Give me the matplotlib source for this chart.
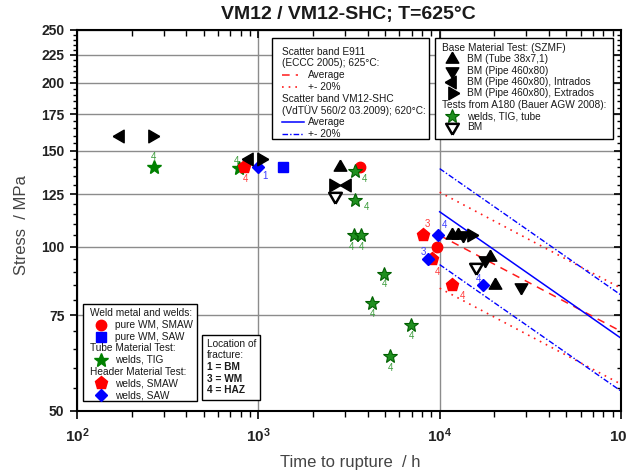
import matplotlib
matplotlib.use("Agg")
import matplotlib.pyplot as plt
from matplotlib.lines import Line2D
from matplotlib.patches import Rectangle
from matplotlib.ticker import FixedLocator, NullFormatter, FixedFormatter

plt.rcParams["font.family"] = ["Liberation Sans", "DejaVu Sans"]
plt.rcParams["mathtext.fontset"] = "custom"
plt.rcParams["mathtext.rm"] = "Liberation Sans"
plt.rcParams["mathtext.bf"] = "Liberation Sans:bold"

# ---------------- data ----------------
# Base material tests (SZMF)
bm_tube_x = [2820, 11750, 12700, 19000, 20200]
bm_tube_y = [140, 105, 105, 96, 85]
bm_pipe_x = [13500, 17800, 28100]
bm_pipe_y = [105, 94.5, 84.5]
bm_intrados_x = [172, 890, 3090]
bm_intrados_y = [160, 145, 130]
bm_extrados_x = [258, 1035, 2580, 14850]
bm_extrados_y = [160, 145, 130, 105]

# Tests from A180 (Bauer AGW 2008)
a180_tig_x = [3415, 3415, 3373, 3687, 4936, 4240, 6955, 5326]
a180_tig_y = [138, 122, 105, 105, 89, 79, 72, 63]
a180_bm_x = [2650, 15880]
a180_bm_y = [124, 92]

# Weld metal and welds
wm_smaw_x = [3640, 9680]
wm_smaw_y = [140, 100]
wm_saw_x = [1368]
wm_saw_y = [140]
tube_tig_x = [265, 783]
tube_tig_y = [140, 139.5]
hdr_smaw_x = [834, 8100, 9080, 11700]
hdr_smaw_y = [140, 105, 95, 85]
hdr_saw_x = [996, 9800, 8630, 17350]
hdr_saw_y = [140, 105, 95, 85]

# Scatter bands (average lines, +-20 %)
band_x = [1e4, 1e5]
e911_avg = [105, 70]
vm12_avg = [116, 68]
band_pct = 0.20

# Location of fracture labels: (text, x, y, colour key)
fracture_labels = [
    ("4", 265, 140, "g"), ("4", 783, 139.5, "g"), ("4", 834, 140, "r"),
    ("1", 996, 140, "b"), ("4", 3415, 138, "g"), ("4", 3415, 122, "g"),
    ("4", 3373, 105, "g"), ("4", 3687, 105, "g"), ("3", 8100, 105, "r"),
    ("4", 9800, 105, "b"), ("3", 8630, 95, "b"), ("4", 9080, 95, "r"),
    ("4", 4936, 89, "g"), ("4", 4240, 79, "g"), ("4", 6955, 72, "g"),
    ("4", 5326, 63, "g"), ("4", 11700, 85, "r"), ("4", 17350, 85, "b"),
]
# label offsets in pixels (dx right, dy up)
label_offsets = [
    (0, 10), (-3, 7), (1, -12), (7, -9), (9, -8), (11, -7),
    (-3, -12), (0, -12), (4, 11), (6, 10), (-5, 7), (5, -13),
    (0, -10), (0, -11), (0, -11), (0, -12), (10, -11), (-5, 6),
]

yticks = [50, 75, 100, 125, 150, 175, 200, 225, 250]
xticks = [1e2, 1e3, 1e4, 1e5]
xticklabels = [r"$\mathbf{10^{2}}$", r"$\mathbf{10^{3}}$",
               r"$\mathbf{10^{4}}$", r"$\mathbf{10^{5}}$"]

# ---------------- figure ----------------
W, H = 627, 470
fig = plt.figure(figsize=(W / 100, H / 100), dpi=100)


def fx(px):
    return px / W


def fy(py):
    return 1 - py / H


ax = fig.add_axes([fx(77), fy(411), (621 - 77) / W, (411 - 30) / H])
ax.set_xscale("log")
ax.set_yscale("log")
ax.set_xlim(1e2, 1e5)
ax.set_ylim(50, 250)

ax.yaxis.set_major_locator(FixedLocator(yticks))
ax.yaxis.set_major_formatter(FixedFormatter([str(v) for v in yticks]))
ax.yaxis.set_minor_locator(FixedLocator([v for v in range(50, 251, 5) if v % 25]))
ax.yaxis.set_minor_formatter(NullFormatter())
ax.xaxis.set_major_locator(FixedLocator(xticks))
ax.xaxis.set_major_formatter(FixedFormatter(xticklabels))
ax.xaxis.set_minor_locator(FixedLocator([m * 10 ** e for e in (2, 3, 4) for m in range(2, 10)]))
ax.xaxis.set_minor_formatter(NullFormatter())

ax.grid(True, which="major", color="#8c8c8c", lw=1.0, zorder=0)
ax.set_axisbelow(True)
for s in ax.spines.values():
    s.set_linewidth(1.5)
    s.set_color("black")

ax.tick_params(axis="y", which="major", direction="out", length=5, width=1.2,
               labelsize=10, pad=4, right=True)
ax.tick_params(axis="y", which="minor", direction="out", length=3, width=1.0, right=True)
ax.tick_params(axis="x", which="major", direction="out", length=6, width=1.2,
               labelsize=11, pad=5, top=True)
ax.tick_params(axis="x", which="minor", direction="out", length=4, width=1.0, top=True)
ax.tick_params(which="both", right=True, top=True)
for lab in ax.get_yticklabels():
    lab.set_fontweight("bold")
    lab.set_color("#222222")
for lab in ax.get_xticklabels():
    lab.set_color("#222222")
# right/top ticks point inward
for t in ax.yaxis.get_major_ticks() + ax.yaxis.get_minor_ticks():
    t.tick2line.set_marker(matplotlib.lines.TICKLEFT)
for t in ax.xaxis.get_major_ticks() + ax.xaxis.get_minor_ticks():
    t.tick2line.set_marker(matplotlib.lines.TICKDOWN)

# scatter bands
RED = "#ff1a1a"
BLUE = "#0000ff"
GREEN = "#008000"
ax.plot(band_x, e911_avg, color=RED, lw=1.1, dashes=(5, 4), zorder=2)
for f in (1 + band_pct, 1 - band_pct):
    ax.plot(band_x, [v * f for v in e911_avg], color=RED, lw=1.2, dashes=(1, 3), zorder=2)
ax.plot(band_x, vm12_avg, color=BLUE, lw=1.1, zorder=2)
for f in (1 + band_pct, 1 - band_pct):
    ax.plot(band_x, [v * f for v in vm12_avg], color=BLUE, lw=1.0,
            dashes=(4, 1.5, 1, 1.5), zorder=2)

# equilateral triangle markers
TRI_UP = [(0, 0.577), (-0.5, -0.289), (0.5, -0.289), (0, 0.577)]
TRI_DOWN = [(x, -y) for x, y in TRI_UP]
TRI_LEFT = [(-y, x) for x, y in TRI_UP]
TRI_RIGHT = [(y, x) for x, y in TRI_UP]
TRI_MS = 10.5

ST = {
    "tube": dict(marker=TRI_UP, ms=TRI_MS, color="black", ls="none"),
    "pipe": dict(marker=TRI_DOWN, ms=TRI_MS, color="black", ls="none"),
    "intr": dict(marker=TRI_LEFT, ms=TRI_MS, color="black", ls="none"),
    "extr": dict(marker=TRI_RIGHT, ms=TRI_MS, color="black", ls="none"),
    "a180": dict(marker="*", ms=10, mfc="#1f8f1f", mec="#006000", mew=0.8, ls="none"),
    "a180bm": dict(marker=TRI_DOWN, ms=TRI_MS, mfc="white", mec="black", mew=1.8, ls="none"),
    "wmsmaw": dict(marker="o", ms=7.5, color="#ff0000", ls="none"),
    "wmsaw": dict(marker="s", ms=7, color="#0000ff", ls="none"),
    "tig": dict(marker="*", ms=10, color=GREEN, ls="none"),
    "hsmaw": dict(marker="p", ms=9.5, color="#ff0000", ls="none"),
    "hsaw": dict(marker="D", ms=6.5, color="#0000ff", ls="none"),
}

ax.plot(wm_smaw_x, wm_smaw_y, zorder=3, **ST["wmsmaw"])
ax.plot(tube_tig_x, tube_tig_y, zorder=3, **ST["tig"])
ax.plot(a180_tig_x, a180_tig_y, zorder=3, **ST["a180"])
ax.plot(wm_saw_x, wm_saw_y, zorder=3, **ST["wmsaw"])
ax.plot(hdr_smaw_x, hdr_smaw_y, zorder=3, **ST["hsmaw"])
ax.plot(hdr_saw_x, hdr_saw_y, zorder=4, **ST["hsaw"])
ax.plot(bm_tube_x, bm_tube_y, zorder=4, **ST["tube"])
ax.plot(bm_pipe_x, bm_pipe_y, zorder=4, **ST["pipe"])
ax.plot(bm_intrados_x, bm_intrados_y, zorder=4, **ST["intr"])
ax.plot(bm_extrados_x, bm_extrados_y, zorder=4, **ST["extr"])
ax.plot(a180_bm_x, a180_bm_y, zorder=4, **ST["a180bm"])

LABEL_COL = {"g": "#3c9c3c", "r": "#ff3c3c", "b": "#3c3cff"}
for (txt, x, y, c), (dx, dy) in zip(fracture_labels, label_offsets):
    ax.annotate(txt, (x, y), xytext=(dx, dy), textcoords="offset pixels",
                ha="center", va="center", fontsize=7, color=LABEL_COL[c], zorder=5)

# ---------------- annotation boxes ----------------
TXT = dict(fontsize=7.3, color="#1a1a1a", va="center", ha="left", zorder=7)


def box(x0, y0, x1, y1):
    fig.add_artist(Rectangle((fx(x0), fy(y1)), (x1 - x0) / W, (y1 - y0) / H,
                             transform=fig.transFigure, facecolor="white",
                             edgecolor="black", lw=1.0, zorder=6))


def mark(x, y, style):
    kw = {k: v for k, v in style.items() if k != "ls"}
    fig.add_artist(Line2D([fx(x)], [fy(y)], transform=fig.transFigure,
                          ls="none", zorder=7, **kw))


def sample(x0, x1, y, **kw):
    fig.add_artist(Line2D([fx(x0), fx(x1)], [fy(y), fy(y)],
                          transform=fig.transFigure, zorder=7, **kw))


# scatter band box
box(272, 38, 429, 139)
rows = [51.7, 63.4, 75.1, 86.8, 98.5, 110.2, 121.9, 133.6]
fig.text(fx(282), fy(rows[0]), "Scatter band E911", **TXT)
fig.text(fx(282), fy(rows[1]), "(ECCC 2005); 625°C:", **TXT)
sample(282, 298, rows[2], color=RED, lw=1.1, dashes=(5, 4))
fig.text(fx(308), fy(rows[2]), "Average", **TXT)
sample(282, 300, rows[3], color=RED, lw=1.2, dashes=(1, 3))
fig.text(fx(308), fy(rows[3]), "+- 20%", **TXT)
fig.text(fx(282), fy(rows[4]), "Scatter band VM12-SHC", **TXT)
fig.text(fx(282), fy(rows[5]), "(VdTÜV 560/2 03.2009); 620°C:", **TXT)
sample(282, 304, rows[6], color=BLUE, lw=1.1)
fig.text(fx(308), fy(rows[6]), "Average", **TXT)
sample(282, 304, rows[7], color=BLUE, lw=1.0, dashes=(4, 1.5, 1, 1.5))
fig.text(fx(308), fy(rows[7]), "+- 20%", **TXT)

# base material box
box(435, 38, 613, 139)
rows = [47.7, 59.1, 70.5, 81.9, 93.3, 104.7, 116.1, 127.5]
fig.text(fx(442), fy(rows[0]), "Base Material Test: (SZMF)", **TXT)
entries = [("tube", "BM (Tube 38x7,1)"), ("pipe", "BM (Pipe 460x80)"),
           ("intr", "BM (Pipe 460x80), Intrados"), ("extr", "BM (Pipe 460x80), Extrados")]
for r, (k, s) in zip(rows[1:5], entries):
    mark(452, r, ST[k])
    fig.text(fx(467), fy(r), s, **TXT)
fig.text(fx(442), fy(rows[5]), "Tests from A180 (Bauer AGW 2008):", **TXT)
mark(452, rows[6], ST["a180"])
fig.text(fx(467), fy(rows[6]), "welds, TIG, tube", **TXT)
mark(452, rows[7], ST["a180bm"])
fig.text(fx(467), fy(rows[7]), "BM", **TXT)

# weld metal box
box(83, 304, 197, 401)
rows = [313.3, 325, 336.7, 348.3, 360, 371.7, 383.3, 395]
fig.text(fx(90), fy(rows[0]), "Weld metal and welds:", **TXT)
mark(101, rows[1], ST["wmsmaw"])
fig.text(fx(115), fy(rows[1]), "pure WM, SMAW", **TXT)
mark(101, rows[2], ST["wmsaw"])
fig.text(fx(115), fy(rows[2]), "pure WM, SAW", **TXT)
fig.text(fx(90), fy(rows[3]), "Tube Material Test:", **TXT)
mark(101, rows[4], ST["tig"])
fig.text(fx(115), fy(rows[4]), "welds, TIG", **TXT)
fig.text(fx(90), fy(rows[5]), "Header Material Test:", **TXT)
mark(101, rows[6], ST["hsmaw"])
fig.text(fx(115), fy(rows[6]), "welds, SMAW", **TXT)
mark(101, rows[7], ST["hsaw"])
fig.text(fx(115), fy(rows[7]), "welds, SAW", **TXT)

# location of fracture box
box(202, 335, 260, 400)
rows = [344, 355.5, 367, 378.5, 390]
fig.text(fx(207), fy(rows[0]), "Location of", **TXT)
fig.text(fx(207), fy(rows[1]), "fracture:", **TXT)
for r, s in zip(rows[2:], ["1 = BM", "3 = WM", "4 = HAZ"]):
    fig.text(fx(207), fy(r), s, fontweight="bold", **TXT)

# titles
fig.text(fx(348), fy(15), "VM12 / VM12-SHC; T=625°C", ha="center", va="center",
         fontsize=14, fontweight="bold", color="#1a1a1a")
fig.text(fx(22), fy(225), "Stress  / MPa", rotation=90, ha="center", va="center",
         fontsize=12, color="#444444")
fig.text(fx(350), fy(462), "Time to rupture  / h", ha="center", va="center",
         fontsize=12, color="#444444")

fig.savefig("out.png", dpi=100)
